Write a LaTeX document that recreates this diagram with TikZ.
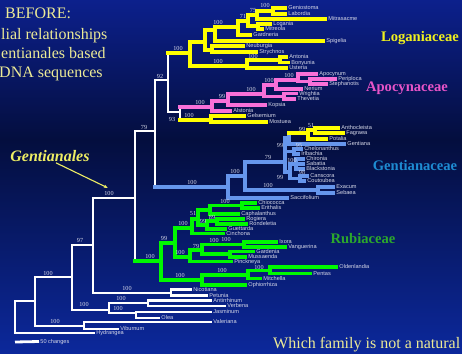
\documentclass[tikz,border=0pt]{standalone}
\usepackage{fontspec}
\setmainfont{Liberation Serif}
\setsansfont{Liberation Sans}
\usetikzlibrary{arrows.meta}
\definecolor{bgtop}{RGB}{12,32,140}
\definecolor{bgmid}{RGB}{4,14,62}
\definecolor{bgbot}{RGB}{12,40,155}
\definecolor{cream}{RGB}{236,234,150}
\definecolor{gold}{RGB}{238,238,100}
\definecolor{taxgrey}{RGB}{214,216,232}
\definecolor{yel}{RGB}{255,255,0}
\definecolor{pnk}{RGB}{248,112,216}
\definecolor{blu}{RGB}{102,150,236}
\definecolor{grn}{RGB}{0,248,0}
\definecolor{logcol}{RGB}{240,240,30}
\definecolor{apocol}{RGB}{232,84,200}
\definecolor{gencol}{RGB}{30,140,210}
\definecolor{rubcol}{RGB}{44,168,44}
\tikzset{
  wht/.style={white,line width=2.8pt},
  yb/.style={yel,line width=3.8pt},
  pb/.style={pnk,line width=3.5pt},
  bb/.style={blu,line width=3.3pt},
  gb/.style={grn,line width=3.8pt},
  tax/.style={anchor=west,inner sep=1.2pt,text=taxgrey,font=\sffamily\fontsize{5.6}{6}\selectfont,text height=4pt,text depth=0.6pt},
  boot/.style={inner sep=0pt,text=taxgrey,font=\fontsize{6.2}{7}\selectfont},
  fam/.style={inner sep=0pt,font=\bfseries\fontsize{14.6}{16}\selectfont},
  slide/.style={anchor=base west,inner sep=0pt,text=cream,font=\fontsize{16}{18}\selectfont}
}
\begin{document}
\begin{tikzpicture}[x=1pt,y=-1pt]
\useasboundingbox (0,0) rectangle (462,353);
\shade[top color=bgtop,bottom color=bgmid] (0,0) rectangle (462,140);
\shade[top color=bgmid,bottom color=bgbot] (0,139.5) rectangle (462,353);

\node[slide] (t1) at (5,19) {BEFORE:};
\node[slide] (t2) at (1,39) {lial relationships};
\node[slide] (t3) at (1,58) {entianales based};
\node[slide] (t4) at (-1,77) {DNA sequences};
\node[slide] (t5) at (273,348) {Which family is not a natural};

\node[fam,text=logcol] (logan) at (420,38) {Loganiaceae};
\node[fam,text=apocol] (apocy) at (407,88) {Apocynaceae};
\node[fam,text=gencol] (gentc) at (415,166) {Gentianaceae};
\node[fam,text=rubcol] (rubia) at (363,239) {Rubiaceae};

\node[inner sep=1pt,text=gold,font=\bfseries\itshape\fontsize{16}{18}\selectfont] (gname) at (50,156) {Gentianales};
\coordinate (gtip) at (108,188);
\draw[gold,line width=1.1pt,-{Latex[length=4pt,width=3.5pt]}] ([xshift=6pt]gname.south) -- (gtip);

\coordinate (root) at (15,317);
\coordinate (n35) at (35,301);
\coordinate (n72) at (72,277);
\coordinate (n93) at (93,245);
\coordinate (n109) at (109,310);
\coordinate (n148) at (148,303);
\coordinate (n136) at (136,313);
\coordinate (n84) at (84,326);
\coordinate (nNP) at (171,293);
\coordinate (n135) at (135,198);
\coordinate (n155) at (155,131);
\coordinate (n168) at (168,80);
\coordinate (n180) at (180,112);
\coordinate (nGM) at (211,120);

\coordinate (R) at (190,53);
\coordinate (P) at (205,42);
\coordinate (NS) at (212,50);
\coordinate (T) at (215,30);
\coordinate (U) at (238,27);
\coordinate (V) at (248,21);
\coordinate (LM) at (258,26);
\coordinate (W) at (257,15);
\coordinate (GL) at (273,11);
\coordinate (Q) at (247,66);
\coordinate (X) at (280,60);

\coordinate (pA) at (212,107);
\coordinate (pB) at (228,101);
\coordinate (pC) at (264,94);
\coordinate (pD) at (284,96.5);
\coordinate (pE) at (276,85);
\coordinate (pF) at (298,80);
\coordinate (pG) at (310,81.5);

\coordinate (B0) at (228,187);
\coordinate (B1) at (245,176);
\coordinate (nES) at (318,190);
\coordinate (B2) at (285,162);
\coordinate (B3) at (289,138);
\coordinate (Y1) at (308,133);
\coordinate (Y2) at (315,130);
\coordinate (B4) at (294,151.5);
\coordinate (B5) at (290,172);
\coordinate (B6) at (296,164);
\coordinate (B7) at (300,178.5);

\coordinate (G0) at (161,261);
\coordinate (G1) at (175,243);
\coordinate (G2) at (192,228);
\coordinate (G3) at (198,219);
\coordinate (G4) at (210,210);
\coordinate (ChEr) at (242,205.5);
\coordinate (G6) at (207,225);
\coordinate (RR) at (217,221);
\coordinate (G5) at (190,257);
\coordinate (G7) at (202,250);
\coordinate (G8) at (244,244.5);
\coordinate (GM) at (230,254);
\coordinate (G9) at (202,280);
\coordinate (G10) at (248,275);
\coordinate (G11) at (270,270.5);

\node[tax] (hydr) at (95,333) {Hydrangea};
\node[tax] (vibu) at (119,329) {Viburnum};
\node[tax] (vale) at (212,322) {Valeriana};
\node[tax] (olea) at (160,318) {Olea};
\node[tax] (jasm) at (212,312) {Jasminum};
\node[tax] (verb) at (226,306) {Verbena};
\node[tax] (anti) at (212,300.5) {Antirrhinum};
\node[tax] (petu) at (208,295.5) {Petunia};
\node[tax] (nico) at (192,289.5) {Nicotiana};

\node[tax] (geni) at (287,8) {Geniostoma};
\node[tax] (labo) at (287,14) {Labordia};
\node[tax] (mitr) at (327,19) {Mitrasacme};
\node[tax] (loga) at (272,24) {Logania};
\node[tax] (mitre) at (264,29) {Mitreola};
\node[tax] (gard) at (252,35) {Gardneria};
\node[tax] (spig) at (325,41) {Spigelia};
\node[tax] (neub) at (245,46) {Neuburgia};
\node[tax] (stry) at (258,52) {Strychnos};
\node[tax] (anto) at (288,57) {Antonia};
\node[tax] (bony) at (290,62.5) {Bonyunia};
\node[tax] (uste) at (288,68) {Usteria};
\node[tax] (gels) at (246,116) {Gelsemium};
\node[tax] (most) at (268,122) {Mostuea};

\node[tax] (apoc) at (318,74) {Apocynum};
\node[tax] (peri) at (337,79) {Periploca};
\node[tax] (steph) at (328,84) {Stephanotis};
\node[tax] (neri) at (303,89) {Nerium};
\node[tax] (wrig) at (298,93.5) {Wrightia};
\node[tax] (thev) at (296,99) {Thevetia};
\node[tax] (kops) at (267,105) {Kopsia};
\node[tax] (alst) at (232,111) {Alstonia};

\node[tax] (anth) at (340,128) {Anthocleista};
\node[tax] (fagr) at (345,133) {Fagraea};
\node[tax] (pota) at (328,139) {Potalia};
\node[tax] (gent) at (346,144) {Gentiana};
\node[tax] (chel) at (303,149) {Chelonanthus};
\node[tax] (irlb) at (300,154) {Irlbachia};
\node[tax] (chir) at (305,159) {Chironia};
\node[tax] (saba) at (305,164) {Sabatia};
\node[tax] (blac) at (305,169) {Blackstonia};
\node[tax] (cans) at (309,176) {Canscora};
\node[tax] (cout) at (306,181) {Coutoubea};
\node[tax] (exac) at (335,187) {Exacum};
\node[tax] (seba) at (335,193) {Sebaea};
\node[tax] (sacc) at (289,198) {Saccifolium};

\node[tax] (chio) at (257,203) {Chiococca};
\node[tax] (erit) at (260,208) {Erithalis};
\node[tax] (caph) at (240,214) {Caphalanthus};
\node[tax] (rogi) at (245,219) {Rogiera};
\node[tax] (rond) at (248,224) {Rondeletia};
\node[tax] (guet) at (227,229) {Guettarda};
\node[tax] (cinc) at (225,233.5) {Cinchona};
\node[tax] (ixor) at (278,242) {Ixora};
\node[tax] (vang) at (287,247) {Vanguerina};
\node[tax] (gade) at (255,251.5) {Gardenia};
\node[tax] (muss) at (247,257) {Mussaenda};
\node[tax] (pinc) at (233,261.5) {Pinckneya};
\node[tax] (olde) at (338,267) {Oldenlandia};
\node[tax] (pent) at (312,273.5) {Pentas};
\node[tax] (mitc) at (262,278.5) {Mitchella};
\node[tax] (ophi) at (247,285) {Ophiorrhiza};

\draw[wht] (root) |- (n35) (root) |- (hydr.west);
\draw[wht] (n35) |- (n72) (n35) |- (n84);
\draw[wht] (n84) |- (vale.west) (n84) |- (vibu.west);
\draw[wht] (n72) |- (n93) (n72) |- (n109);
\draw[wht] (n109) |- (n148) (n109) |- (n136);
\draw[wht] (n148) |- (anti.west) (n148) |- (verb.west);
\draw[wht] (n136) |- (jasm.west) (n136) |- (olea.west);
\draw[wht] (n93) |- (n135) (n93) |- (nNP);
\draw[wht] (nNP) |- (nico.west) (nNP) |- (petu.west);
\draw[wht] (n135) |- (n155) (n135) -- (n135 |- G0);
\draw[gb,line cap=rect] (n135 |- G0) -- (G0);
\draw[wht] (n155) |- (n168) (n155) -- (n155 |- B0);
\draw[bb,line cap=rect] (n155 |- B0) -- (B0);
\draw[wht] (n168) -- (n168 |- R) (n168) |- (n180);
\draw[yb,line cap=rect] (n168 |- R) -- (R);
\draw[wht] (n180) -- (n180 |- pA) (n180) -- (n180 |- nGM);
\draw[pb,line cap=rect] (n180 |- pA) -- (pA);
\draw[yb,line cap=rect] (n180 |- nGM) -- (nGM);

\draw[yb] (R) |- (P) (R) |- (Q);
\draw[yb] (P) |- (T) (P) |- (NS);
\draw[yb] (NS) |- (neub.west) (NS) |- (stry.west);
\draw[yb] (T) |- (U) (T) |- (spig.west);
\draw[yb] (U) |- (V) (U) |- (gard.west);
\draw[yb] (V) |- (W) (V) |- (LM);
\draw[yb] (LM) |- (loga.west) (LM) |- (mitre.west);
\draw[yb] (W) |- (GL) (W) |- (mitr.west);
\draw[yb] (GL) |- (geni.west) (GL) |- (labo.west);
\draw[yb] (Q) |- (X) (Q) |- (uste.west);
\draw[yb] (X) |- (anto.west) (X) |- (bony.west);
\draw[yb] (nGM) |- (gels.west) (nGM) |- (most.west);

\draw[pb] (pA) |- (pB) (pA) |- (alst.west);
\draw[pb] (pB) |- (pC) (pB) |- (kops.west);
\draw[pb] (pC) |- (pE) (pC) |- (pD);
\draw[pb] (pD) |- (wrig.west) (pD) |- (thev.west);
\draw[pb] (pE) |- (pF) (pE) |- (neri.west);
\draw[pb] (pF) |- (apoc.west) (pF) |- (pG);
\draw[pb] (pG) |- (peri.west) (pG) |- (steph.west);

\draw[bb] (B0) |- (B1) (B0) |- (sacc.west);
\draw[bb] (B1) |- (B2) (B1) |- (nES);
\draw[bb] (nES) |- (exac.west) (nES) |- (seba.west);
\draw[bb] (B2) |- (B3) (B2) |- (B4) (B2) |- (B5);
\draw[bb] (B3) -- (B3 |- Y1) (B3) |- (gent.west);
\draw[yb,line cap=rect] (B3 |- Y1) -- (Y1);
\draw[yb] (Y1) |- (Y2) (Y1) |- (pota.west);
\draw[yb] (Y2) |- (anth.west) (Y2) |- (fagr.west);
\draw[bb] (B4) |- (chel.west) (B4) |- (irlb.west);
\draw[bb] (B5) |- (B6) (B5) |- (B7);
\draw[bb] (B6) |- (chir.west) (B6) -- (saba.west) (B6) |- (blac.west);
\draw[bb] (B7) |- (cans.west) (B7) |- (cout.west);

\draw[gb] (G0) |- (G1) (G0) |- (G9);
\draw[gb] (G1) |- (G2) (G1) |- (G5);
\draw[gb] (G2) |- (G3) (G2) |- (cinc.west);
\draw[gb] (G3) |- (G4) (G3) |- (G6);
\draw[gb] (G4) |- (ChEr) (G4) |- (caph.west);
\draw[gb] (ChEr) |- (chio.west) (ChEr) |- (erit.west);
\draw[gb] (G6) |- (RR) (G6) |- (guet.west);
\draw[gb] (RR) |- (rogi.west) (RR) |- (rond.west);
\draw[gb] (G5) |- (G7) (G5) |- (pinc.west);
\draw[gb] (G7) |- (G8) (G7) |- (GM);
\draw[gb] (G8) |- (ixor.west) (G8) |- (vang.west);
\draw[gb] (GM) |- (gade.west) (GM) |- (muss.west);
\draw[gb] (G9) |- (G10) (G9) |- (ophi.west);
\draw[gb] (G10) |- (G11) (G10) |- (mitc.west);
\draw[gb] (G11) |- (olde.west) (G11) |- (pent.west);

\coordinate (sbar) at (15,342);
\node[tax] (slab) at (39,341.5) {50 changes};
\draw[wht] (sbar) -- (slab.west);

\node[boot] (bw1) at (48,273) {100};
\node[boot] (bw2) at (55,321) {100};
\node[boot] (bw3) at (80,240) {97};
\node[boot] (bw4) at (84,304.5) {100};
\node[boot] (bw5) at (109,193) {100};
\node[boot] (bw6) at (127,288.5) {100};
\node[boot] (bw7) at (121,298) {100};
\node[boot] (bw8) at (118,308.5) {100};
\node[boot] (bw9) at (144,127) {79};
\node[boot] (bw10) at (160,76) {92};
\node[boot] (bw11) at (172,119) {93};
\node[boot] (bw12) at (150,256) {100};

\node[boot] (by1) at (178,48.5) {100};
\node[boot] (by2) at (218,22.5) {100};
\node[boot] (by3) at (243,16) {71};
\node[boot] (by4) at (253,10.5) {75};
\node[boot] (by5) at (265,5.5) {100};
\node[boot] (by6) at (218,61.5) {100};
\node[boot] (by7) at (253,56) {100};
\node[boot] (by8) at (189,115) {100};

\node[boot] (bp1) at (200,102) {100};
\node[boot] (bp2) at (222,96.5) {99};
\node[boot] (bp3) at (251,89.5) {100};
\node[boot] (bp4) at (269,80.5) {100};
\node[boot] (bp5) at (289,75) {100};

\node[boot] (bb1) at (192,182.5) {100};
\node[boot] (bb2) at (235,171.5) {100};
\node[boot] (bb3) at (268,157.5) {79};
\node[boot] (bb4) at (268,185.5) {100};
\node[boot] (bb5) at (280,145) {99};
\node[boot] (bb6) at (299,145) {95};
\node[boot] (bb7) at (292,160) {100};
\node[boot] (bb8) at (302,172.5) {98};
\node[boot] (bb9) at (280,177) {99};
\node[boot] (bb10) at (302,129) {99};
\node[boot] (bb11) at (311,125.5) {51};

\node[boot] (bg1) at (164,238.5) {99};
\node[boot] (bg2) at (183,223.5) {100};
\node[boot] (bg3) at (193,213) {51};
\node[boot] (bg4) at (212,217.5) {89};
\node[boot] (bg5) at (203,221.5) {99};
\node[boot] (bg6) at (225,201) {100};
\node[boot] (bg7) at (180,252.5) {100};
\node[boot] (bg8) at (196,246) {79};
\node[boot] (bg9) at (214,240.5) {100};
\node[boot] (bg10) at (226,239.5) {100};
\node[boot] (bg11) at (180,275) {100};
\node[boot] (bg12) at (222,270.5) {100};
\node[boot] (bg13) at (259,267) {100};
\end{tikzpicture}
\end{document}
